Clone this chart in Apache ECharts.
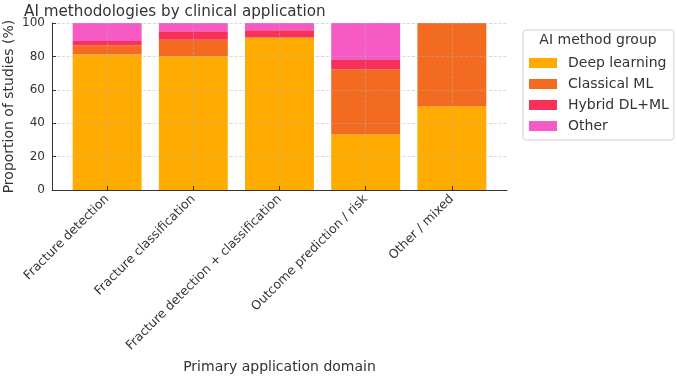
<!DOCTYPE html>
<html>
<head>
<meta charset="utf-8">
<script src="https://cdn.jsdelivr.net/npm/echarts@6/dist/echarts.min.js"></script>
<style>
  html, body { margin: 0; padding: 0; background: #fff; }
  #chart { width: 677px; height: 377px; }
</style>
</head>
<body>
<div id="chart"></div>
<script>
const categories = [
  'Fracture detection',
  'Fracture classification',
  'Fracture detection + classification',
  'Outcome prediction / risk',
  'Other / mixed'
]
const groups = ['Deep learning', 'Classical ML', 'Hybrid DL+ML', 'Other']
const colors = ['#FFAB00', '#F26B21', '#F73157', '#F75AC4']

// percent of studies per application domain
const deepLearning = [81.1, 80, 91.3, 33.3, 50]
const classicalML = [5.4, 10, 0, 38.9, 50]
const hybrid = [2.7, 5, 4.35, 5.6, 0]
const other = [10.8, 5, 4.35, 22.2, 0]

const yTicks = [0, 20, 40, 60, 80, 100]
const seriesValues = [deepLearning, classicalML, hybrid, other]

// [category index, segment bottom, segment top] for each group
const segments = seriesValues.map((vals, i) =>
  vals.map((v, j) => {
    const base = seriesValues.slice(0, i).reduce((s, arr) => s + arr[j], 0)
    return [j, base, base + v]
  })
)

const font = 'DejaVu Sans'
const textColor = '#333'
const gridColor = 'rgba(176,176,176,0.6)'
const catIdx = [0, 1, 2, 3, 4]
const barFraction = 0.8

const renderSegment = color => (params, api) => {
  const j = api.value(0)
  const bottom = api.coord([j, api.value(1)])
  const top = api.coord([j, api.value(2)])
  const w = api.size([barFraction, 0])[0]
  return {
    type: 'rect',
    shape: { x: bottom[0] - w / 2, y: top[1], width: w, height: bottom[1] - top[1] },
    style: { fill: color }
  }
}

const chart = echarts.init(document.getElementById('chart'))

const option = {
  animation: false,
  textStyle: { fontFamily: font },
  title: [
    {
      text: 'AI methodologies by clinical application',
      left: 19,
      top: 0,
      textStyle: { fontFamily: font, fontSize: 15.2, fontWeight: 'normal', color: textColor }
    },
    {
      text: 'AI method group',
      left: 598,
      top: 33,
      textAlign: 'center',
      padding: 0,
      textStyle: { fontFamily: font, fontSize: 14, fontWeight: 'normal', color: textColor }
    }
  ],
  legend: {
    orient: 'vertical',
    left: 523,
    top: 30,
    data: groups.map((g, i) => ({ name: g, itemStyle: { color: colors[i] } })),
    icon: 'rect',
    itemWidth: 28,
    itemHeight: 10,
    itemGap: 7,
    padding: [26, 5, 7, 6],
    borderColor: '#d0d0d0',
    borderWidth: 1,
    borderRadius: 3,
    backgroundColor: 'rgba(255,255,255,0.85)',
    textStyle: { fontFamily: font, fontSize: 14, color: textColor, lineHeight: 14, padding: [0, 0, 0, 6] }
  },
  grid: { left: 52, right: 170, top: 23, bottom: 187, outerBoundsMode: 'none' },
  xAxis: {
    type: 'value',
    min: -0.64,
    max: 4.64,
    z: 10,
    name: 'Primary application domain',
    nameLocation: 'middle',
    nameGap: 170,
    nameMoveOverlap: false,
    nameTextStyle: { fontFamily: font, fontSize: 14, color: textColor },
    axisLine: { show: true, onZero: false, lineStyle: { color: '#333', width: 1 } },
    axisTick: { show: true, inside: true, length: 4, customValues: catIdx, lineStyle: { color: '#333' } },
    axisLabel: {
      customValues: catIdx,
      rotate: 45,
      margin: 7,
      fontFamily: font,
      fontSize: 12.5,
      color: textColor,
      formatter: v => categories[Math.round(v)]
    },
    splitLine: { show: true, lineStyle: { color: gridColor, type: 'dashed', width: 0.8 } }
  },
  yAxis: {
    type: 'value',
    min: 0,
    max: 100,
    interval: 20,
    z: 10,
    name: 'Proportion of studies (%)',
    nameLocation: 'middle',
    nameGap: 36,
    nameMoveOverlap: false,
    nameTextStyle: { fontFamily: font, fontSize: 14, color: textColor },
    axisLine: { show: true, onZero: false, lineStyle: { color: '#333', width: 1 } },
    axisTick: { show: true, inside: true, length: 4, lineStyle: { color: '#333' } },
    axisLabel: {
      fontFamily: font,
      fontSize: 12,
      color: textColor,
      margin: 7,
      formatter: v => (yTicks.includes(v) ? String(v) : '')
    },
    splitLine: { show: true, lineStyle: { color: gridColor, type: 'dashed', width: 0.8 } }
  },
  series: groups.map((g, i) => ({
    name: g,
    type: 'custom',
    z: 2,
    itemStyle: { color: colors[i] },
    encode: { x: 0, y: [1, 2] },
    renderItem: renderSegment(colors[i]),
    data: segments[i]
  }))
}

chart.setOption(option)
</script>
</body>
</html>
